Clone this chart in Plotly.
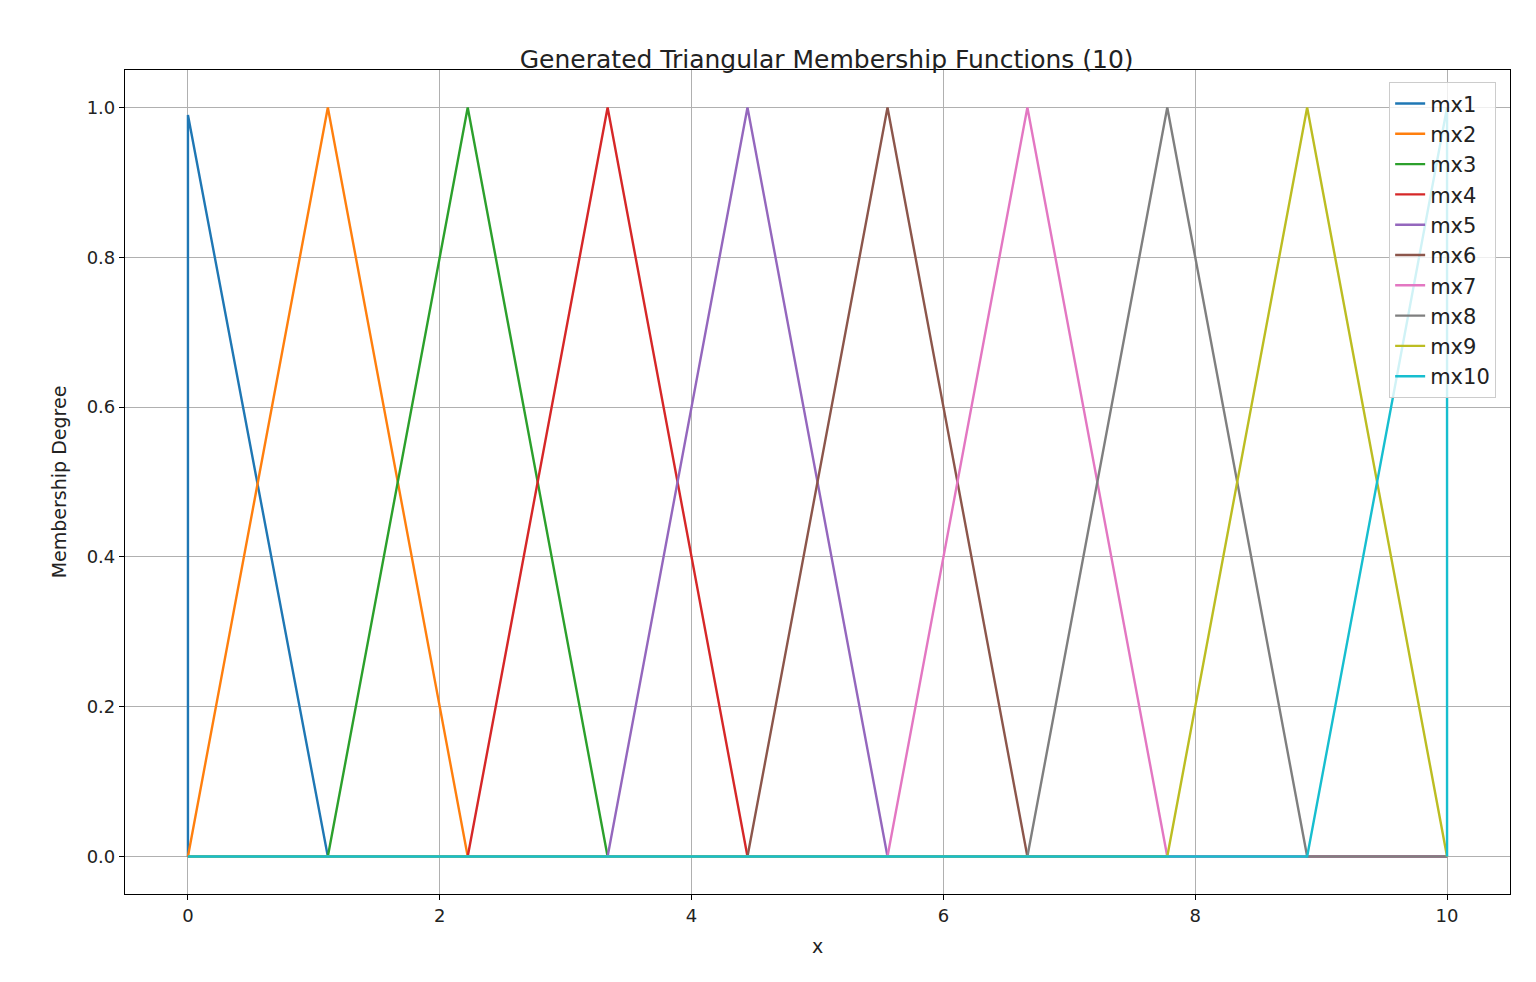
import plotly.graph_objects as go

# breakpoints (x, y) per membership function
names = ["mx1", "mx2", "mx3", "mx4", "mx5", "mx6", "mx7", "mx8", "mx9", "mx10"]
xs = [
    [0, 0, 1.111, 10],
    [0, 1.111, 2.222, 10],
    [0, 1.111, 2.222, 3.333, 10],
    [0, 2.222, 3.333, 4.444, 10],
    [0, 3.333, 4.444, 5.556, 10],
    [0, 4.444, 5.556, 6.667, 10],
    [0, 5.556, 6.667, 7.778, 10],
    [0, 6.667, 7.778, 8.889, 10],
    [0, 7.778, 8.889, 10],
    [0, 8.889, 10, 10],
]
ys = [
    [0, 0.99, 0, 0],
    [0, 1, 0, 0],
    [0, 0, 1, 0, 0],
    [0, 0, 1, 0, 0],
    [0, 0, 1, 0, 0],
    [0, 0, 1, 0, 0],
    [0, 0, 1, 0, 0],
    [0, 0, 1, 0, 0],
    [0, 0, 1, 0],
    [0, 0, 1, 0],
]
colors = ["#1f77b4", "#ff7f0e", "#2ca02c", "#d62728", "#9467bd",
          "#8c564b", "#e377c2", "#7f7f7f", "#bcbd22", "#17becf"]

fig = go.Figure()
for n, x, y, c in zip(names, xs, ys, colors):
    fig.add_trace(go.Scatter(x=x, y=y, name=n, mode="lines",
                             line=dict(color=c, width=2.4)))

axis = dict(showline=True, mirror=True, linecolor="black", linewidth=1.2,
            showgrid=True, gridcolor="#b0b0b0", gridwidth=1, zeroline=False,
            ticks="outside", ticklen=5, tickcolor="black",
            tickfont=dict(size=18, color="#222"))
fig.update_layout(
    width=1536, height=982, plot_bgcolor="white", paper_bgcolor="white",
    font=dict(family="DejaVu Sans", color="#222"),
    margin=dict(l=117, r=34, t=62, b=96),
    title=dict(text="Generated Triangular Membership Functions (10)",
               x=0.533, xanchor="center", y=0.957, font=dict(size=25)),
    xaxis=dict(axis, range=[-0.5, 10.5], dtick=2,
               title=dict(text="x", font=dict(size=19), standoff=14)),
    yaxis=dict(axis, range=[-0.05, 1.05], dtick=0.2, tickformat=".1f",
               title=dict(text="Membership Degree", font=dict(size=19))),
    legend=dict(x=0.99, y=0.985, xanchor="right", yanchor="top",
                bgcolor="rgba(255,255,255,0.8)", bordercolor="#ccc",
                borderwidth=1, font=dict(size=21)),
)
fig.write_html("out.html")
